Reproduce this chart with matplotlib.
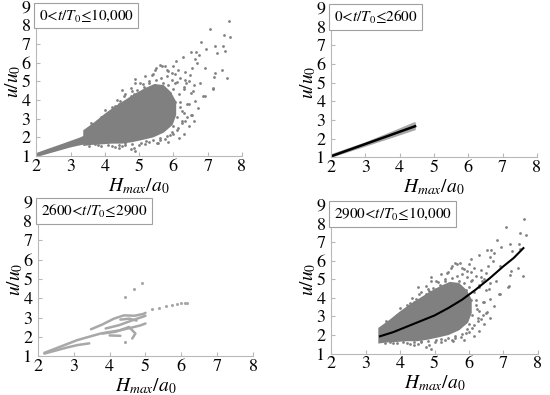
import matplotlib.pyplot as plt
import numpy as np

plt.rcParams['font.family'] = 'serif'
plt.rcParams['font.serif'] = ['STIXGeneral', 'Liberation Serif', 'DejaVu Serif']
plt.rcParams['mathtext.fontset'] = 'stix'

# ---- data ----
titles = [r"0<$t/T_0$≤10,000", r"0<$t/T_0$≤2600",
          r"2600<$t/T_0$≤2900", r"2900<$t/T_0$≤10,000"]

# dense core of the cloud (t/T0 > 2900), outline
core_x = [3.40, 3.60, 3.90, 4.20, 4.50, 4.80, 5.10, 5.40, 5.70, 5.95, 6.05, 6.05,
          5.90, 5.70, 5.45, 5.20, 4.90, 4.60, 4.30, 4.00, 3.70, 3.40]
core_y = [1.60, 1.65, 1.68, 1.72, 1.72, 1.80, 1.92, 2.05, 2.30, 2.70, 3.20, 3.90,
          4.40, 4.75, 4.80, 4.60, 4.30, 3.95, 3.60, 3.20, 2.75, 2.35]

# scattered points around the core (same in panel 1 and panel 4)
out_x = [7.61, 7.07, 7.47, 7.66, 6.80, 7.20, 7.45, 6.94, 7.49, 6.65, 6.51, 6.74, 7.26,
         6.29, 6.07, 6.62, 6.70, 6.91, 7.43, 7.22, 7.18, 7.57, 7.14, 5.66, 5.81, 5.47,
         5.37, 5.18, 4.89, 5.03, 4.75, 6.48, 6.38, 6.77, 6.58, 6.86, 6.14, 5.95, 7.15,
         6.91, 6.72, 6.53, 6.34, 6.14, 6.00, 5.76, 5.52, 5.18, 4.89, 4.84, 4.51, 6.24,
         6.62, 4.51, 4.89, 3.60, 3.90, 4.00, 4.20, 4.35, 4.60, 4.80, 5.10, 5.30, 5.40,
         5.50, 5.60, 5.75, 5.85, 6.00, 6.05, 3.90, 4.20, 4.40, 4.60, 4.75, 5.00, 5.30,
         5.60, 5.90, 6.10, 6.25, 6.40, 6.45, 6.30, 6.35, 6.05, 5.90, 6.20, 4.30, 3.70]
out_y = [8.24, 7.79, 7.49, 7.40, 7.12, 6.90, 6.92, 6.74, 6.65, 6.60, 6.56, 6.40, 6.51,
         6.33, 6.07, 6.19, 5.98, 5.71, 5.62, 5.44, 5.23, 5.18, 4.59, 5.84, 5.62, 5.62,
         5.36, 5.27, 5.12, 4.91, 4.64, 5.36, 4.91, 4.91, 4.47, 4.20, 5.62, 5.44, 4.64,
         4.20, 3.58, 3.22, 2.87, 2.51, 2.16, 1.89, 1.71, 1.62, 1.27, 1.44, 1.53, 3.40,
         3.93, 4.56, 4.91, 2.75, 3.10, 3.45, 3.60, 4.00, 4.30, 4.50, 4.85, 5.00, 5.40,
         5.70, 5.90, 5.85, 5.55, 5.80, 5.40, 1.55, 1.55, 1.45, 1.60, 1.35, 1.60, 1.75,
         1.85, 2.10, 2.40, 2.75, 3.10, 3.80, 4.60, 5.10, 4.90, 4.40, 3.90, 1.50, 1.62]

# fringe points just outside the dense core
fringe_x = [4.30, 4.45, 4.55, 4.70, 4.85, 4.95, 5.05, 5.15, 5.25, 5.30, 5.45, 5.50,
            5.55, 5.65, 5.70, 5.80, 5.85, 5.95, 6.00, 6.10, 6.15, 6.20, 6.30, 6.35,
            6.45, 6.50, 6.55, 6.60, 5.90, 6.05, 6.20, 6.30, 6.10, 6.25, 6.00, 5.95,
            5.80, 5.60, 5.40, 5.20, 5.05, 4.80, 4.60, 4.40, 4.10, 3.80, 3.55, 3.50,
            3.70, 3.85, 4.05, 4.15, 4.30, 4.40, 4.60, 4.75, 5.00, 5.20, 5.40, 5.55,
            5.75, 6.40, 6.50, 6.60, 6.45, 6.30, 6.15, 5.85, 5.55]
fringe_y = [3.70, 3.95, 4.20, 4.00, 4.35, 4.55, 4.45, 4.70, 4.60, 4.90, 4.80, 5.05,
            4.70, 5.20, 4.90, 5.30, 4.80, 5.10, 4.60, 4.95, 4.30, 5.20, 4.70, 5.50,
            5.00, 4.40, 5.70, 4.80, 4.30, 3.90, 3.60, 3.30, 3.10, 2.90, 2.60, 2.30,
            2.05, 1.95, 1.85, 1.80, 1.72, 1.65, 1.70, 1.60, 1.60, 1.58, 1.55, 2.45,
            2.70, 2.90, 3.15, 3.35, 3.50, 3.80, 3.85, 4.20, 4.30, 4.50, 4.60, 4.50,
            4.60, 3.80, 3.20, 2.90, 2.60, 2.20, 1.95, 1.75, 1.70]

# lower-left tail (t/T0 <= 2900) seen in panel 1
tail_x = [2.00, 2.50, 3.00, 3.50, 3.70, 3.70, 3.30, 2.80, 2.30, 2.00]
tail_y = [1.00, 1.26, 1.52, 1.72, 1.80, 2.30, 1.95, 1.62, 1.30, 1.10]

# panel 2: narrow band and fitted line
band2_x = [2.00, 3.00, 3.80, 4.45, 4.45, 3.80, 3.00, 2.00]
band2_y = [1.00, 1.60, 2.08, 2.48, 2.85, 2.35, 1.76, 1.12]
fit2_x = [2.00, 4.45]
fit2_y = [1.05, 2.66]

# panel 3: traces and isolated points
traces3 = [
    ([2.18, 2.50, 2.80, 3.10, 3.43], [1.14, 1.30, 1.45, 1.58, 1.67]),
    ([2.18, 2.60, 3.10, 3.50, 3.75, 4.00, 4.30, 4.60, 4.86, 5.00],
     [1.18, 1.48, 1.84, 2.05, 2.18, 2.26, 2.35, 2.48, 2.60, 2.70]),
    ([3.48, 3.80, 4.12, 4.40, 4.70, 4.95, 5.00],
     [2.40, 2.65, 2.95, 3.12, 3.10, 3.20, 3.25]),
    ([3.89, 4.26, 4.63, 5.00], [2.44, 2.61, 2.86, 3.10]),
    ([3.80, 4.17, 4.54, 4.72, 4.63], [2.18, 2.27, 2.52, 2.18, 1.92]),
    ([4.00, 4.30], [2.08, 2.06]),
    ([4.30, 4.55, 4.75], [2.90, 2.95, 2.85]),
]
pts3_x = [4.43, 4.69, 4.89, 5.19, 5.39, 5.57, 5.74, 5.88, 6.00, 6.09, 6.15, 4.43]
pts3_y = [4.06, 4.47, 4.78, 3.43, 3.50, 3.58, 3.65, 3.72, 3.77, 3.75, 3.75, 1.75]

# panel 4: fitted curve
fit4_x = [3.42, 3.80, 4.20, 4.60, 5.00, 5.40, 5.80, 6.20, 6.60, 7.00, 7.30, 7.58]
fit4_y = [1.93, 2.15, 2.45, 2.75, 3.05, 3.45, 3.90, 4.45, 5.05, 5.70, 6.15, 6.68]

dark = '#808080'
light = '#a8a8a8'

fig = plt.figure(figsize=(5.5, 3.95), dpi=100)
boxes = [[0.066, 0.605, 0.374, 0.378], [0.602, 0.602, 0.374, 0.378],
         [0.069, 0.098, 0.391, 0.391], [0.602, 0.105, 0.376, 0.376]]
axes = [fig.add_axes(b) for b in boxes]

for ax, title in zip(axes, titles):
    ax.set_xlim(2, 8)
    ax.set_ylim(1, 9)
    ax.set_xticks(range(2, 9))
    ax.set_yticks(range(1, 10))
    for s in ['top', 'right']:
        ax.spines[s].set_visible(False)
    for s in ['bottom', 'left']:
        ax.spines[s].set_color('#b8b8b8')
        ax.spines[s].set_linewidth(0.8)
    ax.tick_params(direction='in', length=3, color='#b8b8b8', labelsize=13)
    ax.tick_params(axis='x', pad=2)
    ax.tick_params(axis='y', pad=4)
    ax.set_xlabel(r"$H_{max}/a_0$", fontsize=14, labelpad=1)
    ax.set_ylabel(r"$u/u_0$", fontsize=14, labelpad=-1)
    ax.text(0.012, 0.995, title, transform=ax.transAxes, va='top', ha='left',
            fontsize=11,
            bbox=dict(boxstyle='square,pad=0.3', fc='white', ec='#a0a0a0', lw=0.8))

# panel 1: everything
ax = axes[0]
ax.fill(tail_x, tail_y, color=dark, lw=1.5)
ax.fill(core_x, core_y, color=dark, lw=1.5)
ax.scatter(fringe_x, fringe_y, s=4, color=dark, lw=0)
ax.scatter(out_x, out_y, s=4, color=dark, lw=0)

# panel 2
ax = axes[1]
ax.fill(band2_x, band2_y, color=light, lw=1)
ax.plot(fit2_x, fit2_y, color='black', lw=1.8)

# panel 3
ax = axes[2]
for tx, ty in traces3:
    ax.plot(tx, ty, color=light, lw=1.8, solid_capstyle='round')
ax.scatter(pts3_x, pts3_y, s=5, color=light, lw=0)

# panel 4
ax = axes[3]
ax.fill(core_x, core_y, color=dark, lw=1.5)
ax.scatter(fringe_x, fringe_y, s=4, color=dark, lw=0)
ax.scatter(out_x, out_y, s=4, color=dark, lw=0)
ax.plot(fit4_x, fit4_y, color='black', lw=1.5)

fig.savefig('out.png', dpi=100)
